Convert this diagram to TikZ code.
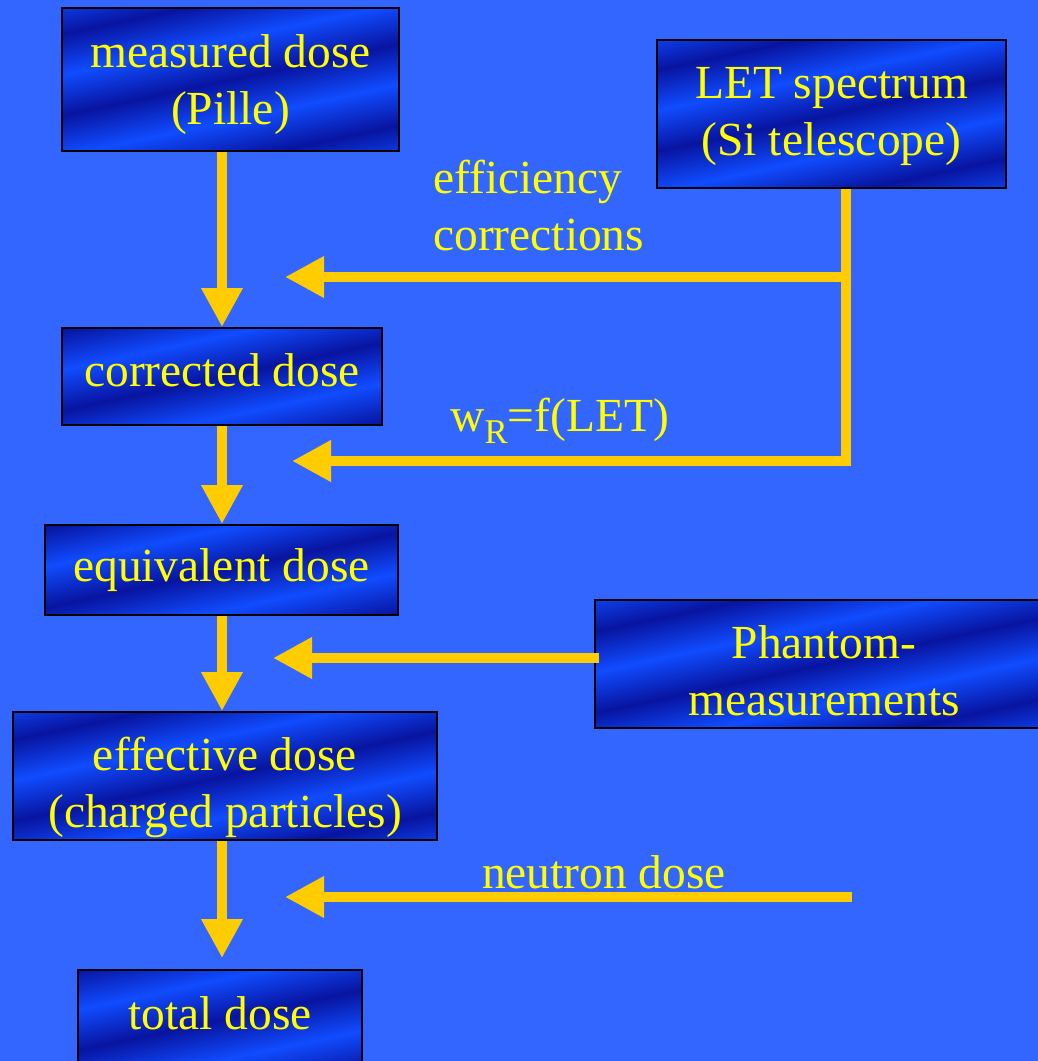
\documentclass[tikz,border=0pt]{standalone}
\usepackage{fontspec}
\setmainfont{Liberation Serif}
\usetikzlibrary{arrows.meta}
\definecolor{bg}{RGB}{51,102,255}
\definecolor{dk}{RGB}{8,20,160}
\definecolor{br}{RGB}{16,76,255}
\definecolor{arrowc}{RGB}{255,204,0}
\definecolor{txt}{RGB}{255,255,0}
\pgfdeclareverticalshading{bands}{100bp}{color(0bp)=(dk); color(20bp)=(dk);
 color(22.5bp)=(br); color(25bp)=(dk); color(27.5bp)=(br); color(30bp)=(dk);
 color(32.5bp)=(br); color(35bp)=(dk); color(37.5bp)=(br); color(40bp)=(dk);
 color(42.5bp)=(br); color(45bp)=(dk); color(47.5bp)=(br); color(50bp)=(dk);
 color(52.5bp)=(br); color(55bp)=(dk); color(57.5bp)=(br); color(60bp)=(dk);
 color(62.5bp)=(br); color(65bp)=(dk); color(67.5bp)=(br); color(70bp)=(dk);
 color(72.5bp)=(br); color(75bp)=(dk); color(77.5bp)=(br); color(80bp)=(dk);
 color(100bp)=(dk)}
\def\px{0.75pt}
\tikzset{
  box/.style={draw=black, line width=1.5pt, inner sep=0pt,
    path picture={\shade[shading=bands, shading angle=12,
      shift={(path picture bounding box.center)}] (-400,-400) rectangle (400,400);}},
  boxtext/.style={text=txt, font=\fontsize{35.6}{42.75}\selectfont, inner sep=0pt, align=center},
  lbl/.style={text=txt, font=\fontsize{35.6}{42.75}\selectfont, inner sep=0pt, align=left},
  conn/.style={draw=arrowc, line width=7.5pt, line join=miter},
  arr/.style={conn, -{Triangle[length=29.25pt,width=29.25pt]}},
}
\begin{document}
\begin{tikzpicture}[x=0.75pt, y=-0.75pt]
\useasboundingbox (0,0) rectangle (1038,1061);
\fill[bg] (0,0) rectangle (1038,1061);

\node[box, minimum width=337*\px, minimum height=143*\px] (M) at (230.5,79.5) {};
\node[boxtext] (Mt) at ([yshift=-5*\px]M.center) {measured dose\\(Pille)};
\node[box, minimum width=349*\px, minimum height=148*\px] (L) at (831.5,114) {};
\node[boxtext] (Lt) at ([yshift=-3*\px]L.center) {LET spectrum\\(Si telescope)};
\node[box, minimum width=320*\px, minimum height=97*\px] (C) at (222,376.5) {};
\node[boxtext] (Ct) at ([yshift=6*\px]C.center) {corrected dose};
\node[box, minimum width=353*\px, minimum height=90*\px] (E) at (221.5,570) {};
\node[boxtext] (Et) at (E.center) {equivalent dose};
\node[box, minimum width=458*\px, minimum height=128*\px] (P) at (824,664) {};
\node[boxtext] (Pt) at ([yshift=-7*\px]P.center) {Phantom-\\measurements};
\node[box, minimum width=424*\px, minimum height=128*\px] (F) at (225,776) {};
\node[boxtext] (Ft) at ([yshift=-11*\px]F.center) {effective dose\\(charged particles)};
\node[box, minimum width=284*\px, minimum height=100*\px] (T) at (220,1020) {};
\node[boxtext] (Tt) at ([yshift=7*\px]T.center) {total dose};

\node[lbl, anchor=west] (ec) at (433,206) {efficiency\\corrections};
\node[lbl, anchor=west] (wr) at (450,421) {w\raisebox{-9pt}{\fontsize{26}{26}\selectfont R}=f(LET)};
\node[lbl] (nd) at (604,872) {neutron dose};

\coordinate (sp) at (222,0);
\draw[arr] (sp |- M.south) -- (sp |- C.north);
\draw[arr] (sp |- C.south) -- (sp |- E.north);
\draw[arr] (sp |- E.south) -- (sp |- F.north);
\draw[arr, shorten >=11*\px] (sp |- F.south) -- (sp |- T.north);

\coordinate (lx) at (846,0);
\coordinate (k1) at (285,277);
\coordinate (k2) at (292,461);
\draw[arr] (lx |- L.south) -- (lx |- k2) -- (k2);
\draw[arr] (lx |- k1) -- (k1);

\coordinate (k3) at (273,658);
\draw[arr, shorten <=-5*\px] (P.west |- k3) -- (k3);

\coordinate (n0) at (852,897);
\coordinate (n1) at (285,897);
\draw[arr] (n0) -- (n1);
\end{tikzpicture}
\end{document}
